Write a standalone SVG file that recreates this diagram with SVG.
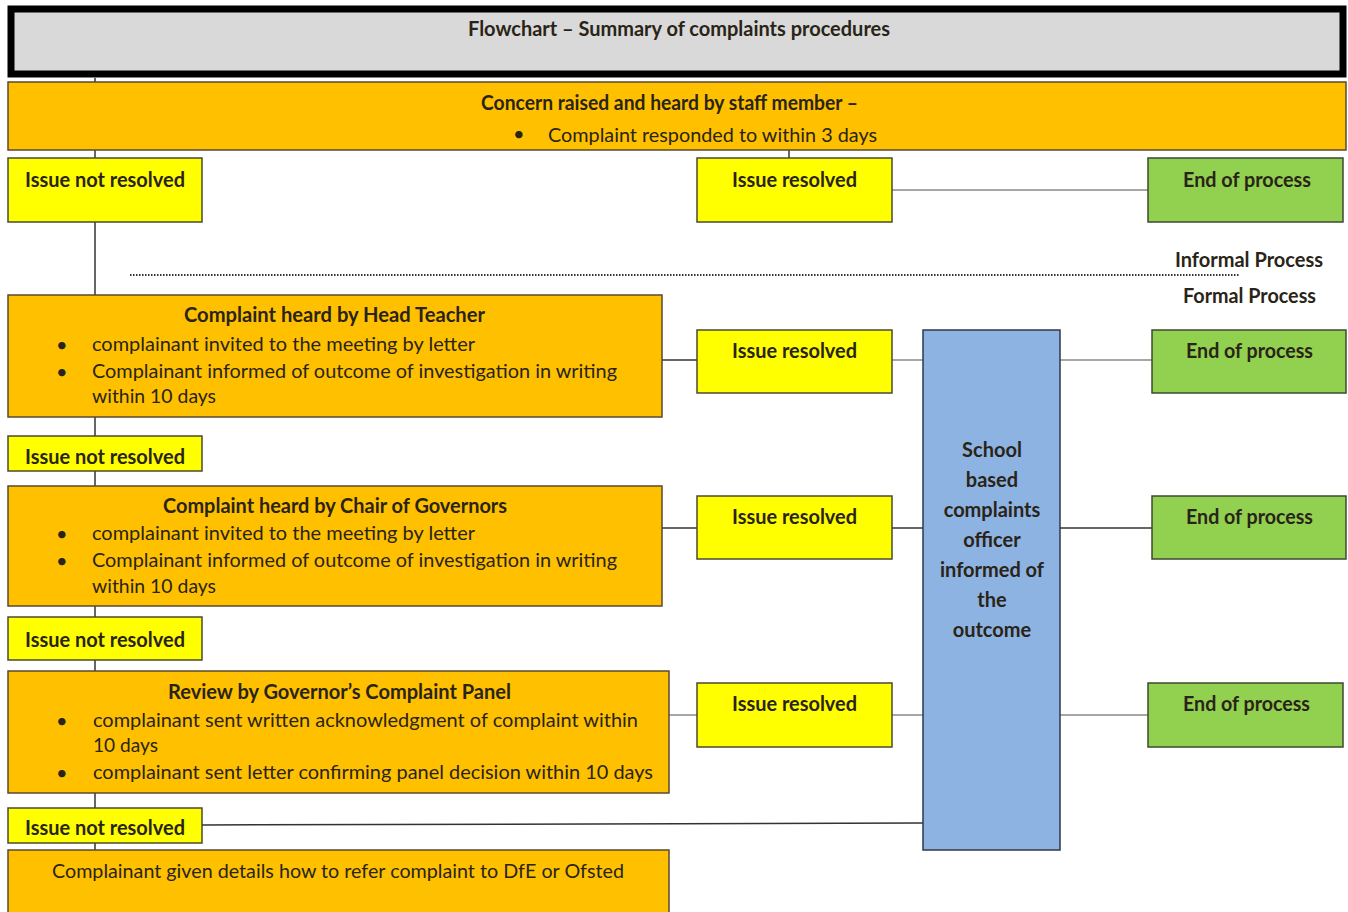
<svg xmlns="http://www.w3.org/2000/svg" width="1348" height="912" viewBox="0 0 1348 912">
<style>
text{font-family:Lato,"Open Sans","Liberation Sans",sans-serif;fill:#2a2418;font-size:20px}
.b{font-weight:bold}
.c{text-anchor:middle}
.or{fill:#ffc000;stroke:#5a4a30;stroke-width:1.5}
.ye{fill:#ffff00;stroke:#4a4a30;stroke-width:1.5}
.gr{fill:#92d050;stroke:#3c4a30;stroke-width:1.5}
.bl{fill:#8db3e2;stroke:#2e3a4a;stroke-width:1.5}
.ln{stroke:#333;stroke-width:1.5;fill:none}
.lg{stroke:#8a8a8a;stroke-width:1.5;fill:none}
</style>
<rect width="1348" height="912" fill="#ffffff"/>
<g id="connectors">
<line class="ln" x1="95" y1="78" x2="95" y2="850"/>
<line class="ln" x1="789" y1="150" x2="789" y2="158"/>
<line class="lg" x1="892" y1="190" x2="1148" y2="190"/>
<line class="ln" x1="662" y1="360" x2="697" y2="360"/>
<line class="lg" x1="892" y1="360" x2="923" y2="360"/>
<line class="lg" x1="1060" y1="360" x2="1152" y2="360"/>
<line class="ln" x1="662" y1="528" x2="697" y2="528"/>
<line class="ln" x1="892" y1="528" x2="923" y2="528"/>
<line class="ln" x1="1060" y1="528" x2="1152" y2="528"/>
<line class="lg" x1="669" y1="715" x2="697" y2="715"/>
<line class="lg" x1="892" y1="715" x2="923" y2="715"/>
<line class="lg" x1="1060" y1="715" x2="1148" y2="715"/>
<line class="ln" x1="202" y1="825" x2="923" y2="823"/>
<line x1="130" y1="275" x2="1240" y2="275" stroke="#333" stroke-width="2" stroke-dasharray="1.5,1.5"/>
</g>
<g id="title">
<rect x="11" y="9" width="1332" height="65" fill="#d9d9d9" stroke="#000" stroke-width="7"/>
<text class="b" x="468" y="36" textLength="422" lengthAdjust="spacingAndGlyphs">Flowchart – Summary of complaints procedures</text>
</g>
<g id="concern">
<rect class="or" x="8" y="82" width="1338" height="68"/>
<text class="b" x="481" y="110" textLength="377" lengthAdjust="spacingAndGlyphs">Concern raised and heard by staff member –</text>
<text x="513" y="141">•</text>
<text x="548" y="142" textLength="329" lengthAdjust="spacingAndGlyphs">Complaint responded to within 3 days</text>
</g>
<g id="notres1">
<rect class="ye" x="8" y="158" width="194" height="64"/>
<text class="b" x="25" y="187" textLength="160" lengthAdjust="spacingAndGlyphs">Issue not resolved</text>
</g>
<g id="res1">
<rect class="ye" x="697" y="158" width="195" height="64"/>
<text class="b" x="732" y="187" textLength="125" lengthAdjust="spacingAndGlyphs">Issue resolved</text>
</g>
<g id="end1">
<rect class="gr" x="1148" y="158" width="195" height="64"/>
<text class="b" x="1183" y="187" textLength="128" lengthAdjust="spacingAndGlyphs">End of process</text>
</g>
<g id="labels">
<text class="b" x="1175" y="267" textLength="148" lengthAdjust="spacingAndGlyphs">Informal Process</text>
<text class="b" x="1183" y="303" textLength="133" lengthAdjust="spacingAndGlyphs">Formal Process</text>
</g>
<g id="head">
<rect class="or" x="8" y="295" width="654" height="122"/>
<text class="b" x="184" y="322" textLength="301" lengthAdjust="spacingAndGlyphs">Complaint heard by Head Teacher</text>
<text x="56" y="352">•</text>
<text x="92" y="351" textLength="383" lengthAdjust="spacingAndGlyphs">complainant invited to the meeting by letter</text>
<text x="56" y="379">•</text>
<text x="92" y="378" textLength="525" lengthAdjust="spacingAndGlyphs">Complainant informed of outcome of investigation in writing</text>
<text x="92" y="403" textLength="124" lengthAdjust="spacingAndGlyphs">within 10 days</text>
</g>
<g id="notres2">
<rect class="ye" x="8" y="436" width="194" height="35"/>
<text class="b" x="25" y="464" textLength="160" lengthAdjust="spacingAndGlyphs">Issue not resolved</text>
</g>
<g id="chair">
<rect class="or" x="8" y="486" width="654" height="120"/>
<text class="b" x="163" y="513" textLength="344" lengthAdjust="spacingAndGlyphs">Complaint heard by Chair of Governors</text>
<text x="56" y="541">•</text>
<text x="92" y="540" textLength="383" lengthAdjust="spacingAndGlyphs">complainant invited to the meeting by letter</text>
<text x="56" y="568">•</text>
<text x="92" y="567" textLength="525" lengthAdjust="spacingAndGlyphs">Complainant informed of outcome of investigation in writing</text>
<text x="92" y="593" textLength="124" lengthAdjust="spacingAndGlyphs">within 10 days</text>
</g>
<g id="notres3">
<rect class="ye" x="8" y="617" width="194" height="43"/>
<text class="b" x="25" y="647" textLength="160" lengthAdjust="spacingAndGlyphs">Issue not resolved</text>
</g>
<g id="review">
<rect class="or" x="8" y="671" width="661" height="122"/>
<text class="b" x="168" y="699" textLength="343" lengthAdjust="spacingAndGlyphs">Review by Governor’s Complaint Panel</text>
<text x="56" y="728">•</text>
<text x="93" y="727" textLength="545" lengthAdjust="spacingAndGlyphs">complainant sent written acknowledgment of complaint within</text>
<text x="93" y="752" textLength="65" lengthAdjust="spacingAndGlyphs">10 days</text>
<text x="56" y="780">•</text>
<text x="93" y="779" textLength="560" lengthAdjust="spacingAndGlyphs">complainant sent letter confirming panel decision within 10 days</text>
</g>
<g id="notres4">
<rect class="ye" x="8" y="808" width="194" height="35"/>
<text class="b" x="25" y="835" textLength="160" lengthAdjust="spacingAndGlyphs">Issue not resolved</text>
</g>
<g id="final">
<rect class="or" x="8" y="850" width="661" height="70"/>
<text x="52" y="878" textLength="572" lengthAdjust="spacingAndGlyphs">Complainant given details how to refer complaint to DfE or Ofsted</text>
</g>
<g id="res2">
<rect class="ye" x="697" y="330" width="195" height="63"/>
<text class="b" x="732" y="358" textLength="125" lengthAdjust="spacingAndGlyphs">Issue resolved</text>
</g>
<g id="res3">
<rect class="ye" x="697" y="496" width="195" height="63"/>
<text class="b" x="732" y="524" textLength="125" lengthAdjust="spacingAndGlyphs">Issue resolved</text>
</g>
<g id="res4">
<rect class="ye" x="697" y="683" width="195" height="64"/>
<text class="b" x="732" y="711" textLength="125" lengthAdjust="spacingAndGlyphs">Issue resolved</text>
</g>
<g id="officer">
<rect class="bl" x="923" y="330" width="137" height="520"/>
<text class="b c" x="992" y="457">School</text>
<text class="b c" x="992" y="487">based</text>
<text class="b c" x="992" y="517">complaints</text>
<text class="b c" x="992" y="547">officer</text>
<text class="b c" x="992" y="577">informed of</text>
<text class="b c" x="992" y="607">the</text>
<text class="b c" x="992" y="637">outcome</text>
</g>
<g id="end2">
<rect class="gr" x="1152" y="330" width="194" height="63"/>
<text class="b" x="1186" y="358" textLength="127" lengthAdjust="spacingAndGlyphs">End of process</text>
</g>
<g id="end3">
<rect class="gr" x="1152" y="496" width="194" height="63"/>
<text class="b" x="1186" y="524" textLength="127" lengthAdjust="spacingAndGlyphs">End of process</text>
</g>
<g id="end4">
<rect class="gr" x="1148" y="683" width="195" height="64"/>
<text class="b" x="1183" y="711" textLength="127" lengthAdjust="spacingAndGlyphs">End of process</text>
</g>
</svg>
